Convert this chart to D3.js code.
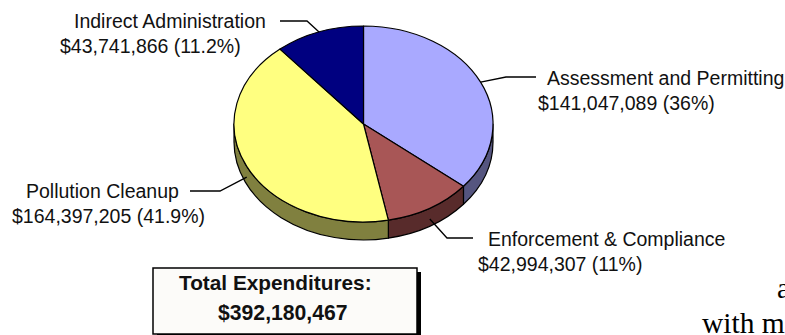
<!DOCTYPE html>
<html>
<head>
<meta charset="utf-8">
<script src="https://cdn.jsdelivr.net/npm/d3@7"></script>
<style>
  html, body { margin: 0; padding: 0; background: #ffffff; }
  svg { display: block; }
  text { font-family: "Liberation Sans", Arial, sans-serif; }
</style>
</head>
<body>
<svg id="chart" width="785" height="335"></svg>
<script>
// Expenditure breakdown, clockwise from 12 o'clock
const categories = [
  "Assessment and Permitting",
  "Enforcement & Compliance",
  "Pollution Cleanup",
  "Indirect Administration"
];
const amounts = [141047089, 42994307, 164397205, 43741866];
const topColors  = ["#a9a9ff", "#a85656", "#ffff80", "#000080"];
const sideColors = ["#55557f", "#582b2b", "#80803f", "#000040"];
const totalTitle = "Total Expenditures:";

// Pie geometry (tilted ellipse with a thin rim)
const cx = 363.5, cy = 124, rx = 129.5, ry = 98, depth = 18;

// Label layout: text origin for each line and the elbow of the leader
const labelLayout = [
  { x1: 547, x2: 538, y: 85,  elbow: [506, 77],  end: 536 },
  { x1: 488, x2: 478, y: 246, elbow: [447, 238], end: 473 },
  { x1: 26,  x2: 12,  y: 198, elbow: [220, 191], end: 190 },
  { x1: 74,  x2: 60,  y: 28,  elbow: [307, 21],  end: 280 }
];

const svg = d3.select("#chart");
const total = d3.sum(amounts);
const money = v => "$" + d3.format(",")(v);
const pct = v => d3.format(".1f")(v * 100).replace(/\.0$/, "") + "%";

const slices = d3.pie().sort(null).value(d => d)(amounts)
  .map((s, i) => ({ ...s, i }));

// Angle measured clockwise from the top, mapped onto the ellipse
const px = a => cx + rx * Math.sin(a);
const py = a => cy - ry * Math.cos(a);

function topPath(s) {
  const large = (s.endAngle - s.startAngle) > Math.PI ? 1 : 0;
  return `M${cx},${cy}L${px(s.startAngle)},${py(s.startAngle)}` +
    `A${rx},${ry} 0 ${large} 1 ${px(s.endAngle)},${py(s.endAngle)}Z`;
}

function sidePath(s) {
  const a = Math.max(s.startAngle, Math.PI / 2);
  const b = Math.min(s.endAngle, 3 * Math.PI / 2);
  if (b <= a) return null;
  return `M${px(a)},${py(a)}` +
    `A${rx},${ry} 0 0 1 ${px(b)},${py(b)}` +
    `L${px(b)},${py(b) + depth}` +
    `A${rx},${ry} 0 0 0 ${px(a)},${py(a) + depth}Z`;
}

// Rim of the front-facing slices
svg.append("g").selectAll("path")
  .data(slices.filter(s => sidePath(s)))
  .join("path")
  .attr("d", sidePath)
  .attr("fill", d => sideColors[d.i])
  .attr("stroke", "#000")
  .attr("stroke-width", 1.2)
  .attr("stroke-linejoin", "round");

// Top faces
svg.append("g").selectAll("path")
  .data(slices)
  .join("path")
  .attr("d", topPath)
  .attr("fill", d => topColors[d.i])
  .attr("stroke", "#000")
  .attr("stroke-width", 1.2)
  .attr("stroke-linejoin", "round");

// Leader lines: from the middle of each slice's edge to its label
const leaders = svg.append("g");
slices.forEach(s => {
  const L = labelLayout[s.i];
  const mid = (s.startAngle + s.endAngle) / 2;
  const front = Math.cos(mid) < 0;
  const ex = px(mid), ey = py(mid) + (front ? depth * 0.6 : 0);
  leaders.append("polyline")
    .attr("points", `${ex},${ey} ${L.elbow[0]},${L.elbow[1]} ${L.end},${L.elbow[1]}`)
    .attr("fill", "none")
    .attr("stroke", "#000")
    .attr("stroke-width", 1.3);
});

// Category and amount labels
const labels = svg.append("g").attr("font-size", "19.5px").attr("fill", "#111");
slices.forEach(s => {
  const L = labelLayout[s.i];
  labels.append("text").attr("x", L.x1).attr("y", L.y).text(categories[s.i]);
  labels.append("text").attr("x", L.x2).attr("y", L.y + 25)
    .text(`${money(s.data)} (${pct(s.data / total)})`);
});

// Total box with drop shadow
const box = svg.append("g");
box.append("rect").attr("x", 157).attr("y", 272).attr("width", 264).attr("height", 66)
  .attr("fill", "#000");
box.append("rect").attr("x", 153).attr("y", 268).attr("width", 264).attr("height", 66)
  .attr("fill", "#fcfbf9").attr("stroke", "#000").attr("stroke-width", 1.5);
box.append("text").attr("x", 179).attr("y", 290)
  .attr("font-size", "20.8px").attr("font-weight", "bold").attr("fill", "#111")
  .text(totalTitle);
box.append("text").attr("x", 218).attr("y", 320)
  .attr("font-size", "21.2px").attr("font-weight", "bold").attr("fill", "#111")
  .text(money(total));

// Body text of the surrounding page, running past the right edge
const page = svg.append("g")
  .attr("font-size", "29.5px")
  .attr("fill", "#000")
  .style("font-family", "'Liberation Serif', 'DejaVu Serif', serif");
page.append("text").attr("x", 777).attr("y", 298).style("font-family", "inherit").text("a");
page.append("text").attr("x", 702).attr("y", 333).style("font-family", "inherit").text("with m");
</script>
</body>
</html>
